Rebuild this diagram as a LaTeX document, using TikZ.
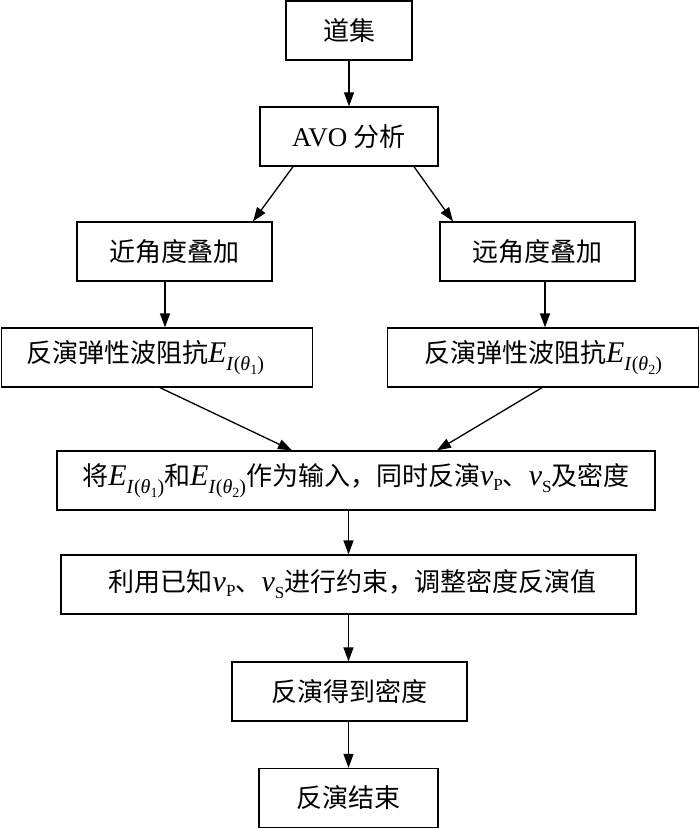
\documentclass[tikz,border=0pt]{standalone}
\usepackage{fontspec}
\setmainfont{Liberation Serif}
\newfontfamily\cjk{Noto Sans CJK SC}
\usetikzlibrary{arrows.meta,calc}
\newcommand\Eth[1]{{\fontsize{30}{30}\selectfont\textit{E}}\raisebox{-8.5pt}{\fontsize{20}{20}\selectfont\textit{I}(\textit{θ}\raisebox{-4pt}{\fontsize{14}{14}\selectfont #1})}}
\newcommand\vsub[2]{{\fontsize{30}{30}\selectfont\textit{v}}\raisebox{#2}{\fontsize{17}{17}\selectfont #1}}
\tikzset{
  box/.style={draw=black,line width=1.3pt,rectangle,inner sep=0pt,minimum height=59pt,
    font=\fontsize{26}{30}\selectfont,text=black},
  arr/.style={line width=1.3pt,-{Triangle[length=14pt,width=10pt]}}
}
\begin{document}
\begin{tikzpicture}[x=1pt,y=-1pt]
\useasboundingbox (0,0) rectangle (700,829);
\node[box,minimum width=126pt] (daoji) at (349,30.5) {\cjk 道集};
\node[box,minimum width=178pt] (avo) at (349,136.5) {{\fontsize{27}{30}\selectfont AVO} {\cjk 分析}};
\node[box,minimum width=195pt] (jin) at (174.5,251.5) {\cjk 近角度叠加};
\node[box,minimum width=195pt] (yuan) at (537.5,251.5) {\cjk 远角度叠加};
\node[box,minimum width=311pt] (fyL) at (157,357.5) {{\cjk 反演弹性波阻抗}\Eth{1}\hspace*{24pt}};
\node[box,minimum width=311pt] (fyR) at (543,357.5) {{\cjk 反演弹性波阻抗}\Eth{2}};
\node[box,minimum width=598pt] (jiang) at (356,480.5) {{\cjk 将}\Eth{1}{\cjk 和}\Eth{2}{\cjk 作为输入，同时反演}\vsub{P}{-5pt}{\cjk 、}\vsub{S}{-7pt}{\cjk 及密度}};
\node[box,minimum width=575pt] (liyong) at (348.5,584.5) {\hspace*{8pt}{\cjk 利用已知}\vsub{P}{-5pt}{\cjk 、}\vsub{S}{-7pt}{\cjk 进行约束，调整密度反演值}};
\node[box,minimum width=235pt] (fanyan) at (349.5,691.5) {\cjk 反演得到密度};
\node[box,minimum width=179pt] (jieshu) at (348.5,798) {\cjk 反演结束};
\draw[arr] (daoji.south) -- (avo.north);
\draw[arr] ([xshift=-56pt]avo.south) -- ([xshift=78.5pt]jin.north);
\draw[arr] ([xshift=65pt]avo.south) -- ([xshift=-84.5pt]yuan.north);
\draw[arr] ([xshift=-9.5pt]jin.south) -- ([xshift=-9.5pt]jin.south |- fyL.north);
\draw[arr] ([xshift=7.5pt]yuan.south) -- ([xshift=7.5pt]yuan.south |- fyR.north);
\draw[arr] ([xshift=3pt]fyL.south) -- ([xshift=-64pt]jiang.north);
\draw[arr] ([xshift=-1pt]fyR.south) -- ([xshift=81pt]jiang.north);
\draw[arr] (jiang.south -| liyong.north) -- (liyong.north);
\draw[arr] (liyong.south) -- (liyong.south |- fanyan.north);
\draw[arr] (fanyan.south -| jieshu.north) -- (jieshu.north);
\end{tikzpicture}
\end{document}
